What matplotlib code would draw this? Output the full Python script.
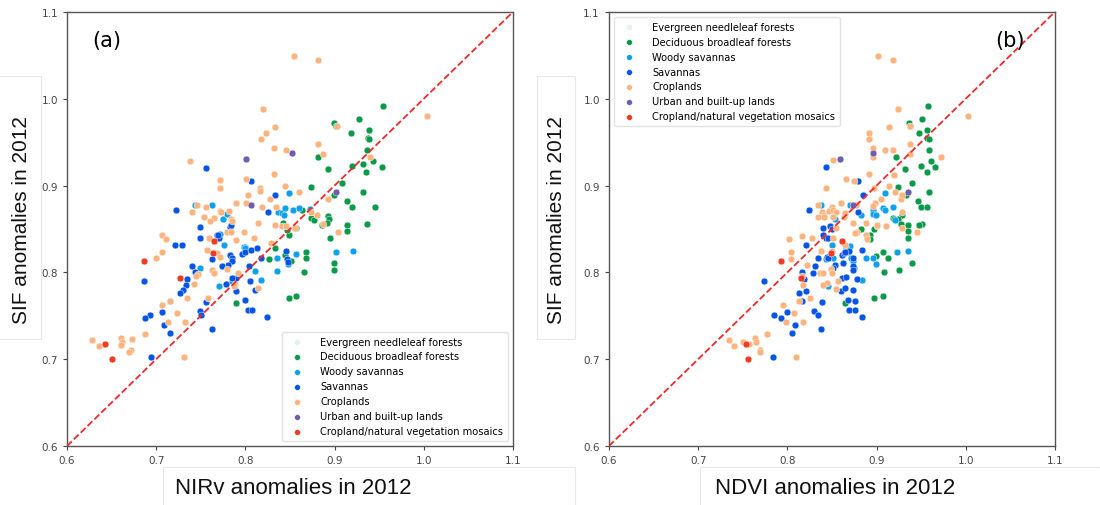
import matplotlib
matplotlib.use("Agg")
import matplotlib.pyplot as plt
from matplotlib.patches import Rectangle

# ── categories / colours ─────────────────────────────────
CLASSES = [
    "Evergreen needleleaf forests",
    "Deciduous broadleaf forests",
    "Woody savannas",
    "Savannas",
    "Croplands",
    "Urban and built-up lands",
    "Cropland/natural vegetation mosaics",
]
COLORS = ["#dff3f7", "#089a48", "#0ea0e8", "#0454e6", "#fcb47e", "#6e5cae", "#f03a22"]

# ── panel (a): NIRv vs SIF ───────────────────────────────
enf_x_a, enf_y_a = [], []

dbf_x_a = [.954, .927, .899, .901, .918, .938, .937, .938, .936, .881, .893, .920, .932,
           .943, .953, .935, .908, .874, .932, .899, .914, .920, .945, .874, .877, .893,
           .894, .892, .886, .914, .914, .936, .895, .842, .857, .849, .833, .826, .844,
           .851, .868, .868, .866, .899, .899, .790, .849, .857, .863, .847]
dbf_y_a = [.992, .977, .972, .969, .961, .964, .955, .954, .941, .933, .919, .923, .925,
           .928, .921, .915, .903, .898, .893, .889, .882, .875, .875, .863, .860, .865,
           .861, .857, .855, .855, .848, .856, .840, .857, .851, .843, .828, .815, .820,
           .813, .823, .817, .800, .811, .803, .765, .770, .773, .872, .849]

wsav_x_a = [.763, .743, .775, .779, .772, .776, .800, .798, .837, .841, .844, .853, .860,
            .872, .849, .843, .770, .785, .818, .835, .811, .835, .857, .848, .901, .921,
            .749, .716, .800]
wsav_y_a = [.878, .877, .862, .867, .844, .832, .829, .829, .870, .868, .874, .872, .874,
            .873, .891, .866, .784, .790, .791, .801, .802, .816, .821, .810, .824, .825,
            .805, .767, .828]

sav_x_a = [.756, .806, .833, .722, .749, .749, .768, .770, .783, .784, .825, .721, .729,
           .763, .783, .785, .785, .796, .800, .806, .813, .817, .804, .781, .774, .740,
           .743, .790, .785, .735, .733, .730, .727, .686, .756, .749, .750, .707, .693,
           .687, .709, .716, .763, .800, .803, .807, .824, .694, .778, .790, .805, .811,
           .845, .847, .848, .769]
sav_y_a = [.920, .905, .889, .872, .852, .840, .843, .839, .852, .855, .869, .831, .832,
           .815, .820, .816, .813, .821, .824, .826, .828, .816, .807, .809, .807, .807,
           .800, .794, .794, .792, .785, .780, .776, .790, .766, .755, .751, .754, .751,
           .747, .739, .730, .735, .768, .757, .757, .748, .702, .787, .779, .790, .780,
           .825, .815, .812, .843]

crop_x_a = [.854, .881, .820, 1.003, .903, .833, .823, .817, .738, .832, .846, .881, .887,
            .940, .772, .771, .801, .832, .816, .816, .803, .844, .860, .828, .801, .790,
            .746, .756, .740, .771, .773, .782, .754, .765, .760, .784, .785, .814, .819,
            .834, .833, .841, .854, .893, .880, .887, .707, .711, .707, .700, .759, .779,
            .784, .798, .810, .790, .757, .768, .772, .829, .856, .904, .763, .765, .779,
            .792, .747, .745, .742, .735, .716, .707, .723, .758, .788, .787, .814, .713,
            .732, .687, .628, .636, .660, .662, .660, .673, .672, .670, .731, .873, .846]
crop_y_a = [1.049, 1.044, .988, .980, .968, .967, .961, .954, .928, .943, .941, .948, .936,
            .933, .906, .897, .908, .913, .897, .894, .889, .900, .893, .885, .880, .880,
            .877, .875, .869, .871, .870, .871, .864, .863, .859, .862, .859, .857, .875,
            .875, .854, .853, .851, .884, .866, .856, .843, .838, .824, .816, .840, .846,
            .846, .847, .839, .837, .826, .822, .818, .834, .851, .846, .803, .799, .804,
            .799, .798, .796, .786, .770, .767, .762, .753, .771, .787, .784, .782, .743,
            .743, .729, .722, .715, .724, .720, .716, .723, .711, .708, .702, .870, .853]

urb_x_a = [.801, .852, .806, .901]
urb_y_a = [.931, .938, .877, .892]

mos_x_a = [.686, .765, .764, .727, .643, .651]
mos_y_a = [.813, .836, .822, .793, .717, .700]

# ── panel (b): NDVI vs SIF ───────────────────────────────
enf_x_b, enf_y_b = [], []

dbf_x_b = [.958, .951, .936, .937, .948, .957, .957, .959, .959, .922, .932, .950, .961,
           .966, .957, .940, .924, .959, .933, .946, .950, .956, .918, .924, .929, .924,
           .927, .935, .935, .951, .948, .935, .883, .897, .893, .893, .899, .907, .913,
           .908, .925, .940, .897, .907, .865, .920]
dbf_y_b = [.992, .977, .972, .969, .961, .964, .955, .954, .941, .933, .919, .923, .928,
           .921, .915, .903, .898, .893, .889, .882, .875, .875, .863, .860, .866, .861,
           .856, .855, .848, .856, .855, .840, .850, .850, .843, .838, .819, .823, .817,
           .800, .803, .811, .770, .773, .765, .862]

wsav_x_b = [.838, .870, .853, .850, .870, .868, .896, .907, .909, .918, .909, .896, .899,
            .921, .845, .871, .875, .884, .896, .888, .899, .923, .935, .866, .851, .846,
            .843, .883, .873]
wsav_y_b = [.878, .878, .862, .832, .830, .824, .872, .874, .872, .875, .891, .867, .866,
            .860, .784, .817, .805, .791, .816, .816, .810, .824, .825, .828, .816, .817,
            .815, .866, .813]

sav_x_b = [.843, .879, .885, .824, .840, .840, .848, .850, .843, .845, .879, .821, .834,
           .844, .846, .861, .864, .866, .869, .874, .884, .874, .873, .853, .831, .816,
           .829, .861, .866, .819, .821, .813, .816, .774, .839, .830, .834, .800, .785,
           .793, .808, .805, .838, .868, .869, .876, .884, .784, .860, .865, .878, .873,
           .876, .865, .851, .862]
sav_y_b = [.921, .905, .889, .872, .851, .843, .853, .850, .839, .839, .869, .832, .816,
           .818, .816, .820, .822, .824, .825, .816, .826, .807, .803, .808, .807, .800,
           .799, .793, .795, .792, .779, .776, .767, .790, .766, .755, .751, .754, .751,
           .747, .739, .730, .735, .768, .757, .757, .748, .702, .779, .782, .792, .780,
           .767, .823, .805, .811]

crop_x_b = [.902, .918, .924, 1.003, .937, .914, .892, .892, .896, .909, .918, .938, .938,
            .972, .851, .892, .843, .866, .875, .897, .914, .921, .905, .898, .927, .929,
            .834, .850, .860, .874, .839, .841, .847, .851, .854, .841, .834, .863, .873,
            .888, .900, .911, .928, .928, .945, .878, .876, .888, .889, .854, .802, .804,
            .816, .804, .838, .851, .850, .822, .837, .840, .849, .850, .816, .817, .825,
            .813, .795, .807, .798, .817, .777, .734, .740, .764, .765, .769, .769, .750,
            .757, .810, .828, .854, .844, .877, .865, .865, .851, .857, .840, .896, .901,
            .919, .896]
crop_y_b = [1.049, 1.044, .988, .980, .968, .967, .961, .954, .943, .941, .941, .948, .936,
            .933, .929, .913, .897, .908, .905, .897, .900, .893, .885, .880, .884, .889,
            .877, .875, .880, .878, .870, .866, .871, .872, .870, .864, .864, .864, .857,
            .857, .853, .853, .851, .870, .846, .846, .845, .843, .838, .851, .838, .824,
            .842, .815, .825, .839, .825, .808, .799, .799, .804, .799, .796, .785, .770,
            .767, .762, .753, .743, .743, .729, .722, .715, .724, .720, .711, .708, .720,
            .717, .702, .839, .781, .788, .878, .832, .868, .864, .790, .785, .876, .855,
            .912, .933]

urb_x_b = [.859, .896, .873, .935]
urb_y_b = [.931, .938, .878, .892]

mos_x_b = [.793, .861, .849, .815, .754, .756]
mos_y_b = [.813, .836, .822, .793, .717, .700]

PANEL_A = [(enf_x_a, enf_y_a), (dbf_x_a, dbf_y_a), (wsav_x_a, wsav_y_a), (sav_x_a, sav_y_a),
           (crop_x_a, crop_y_a), (urb_x_a, urb_y_a), (mos_x_a, mos_y_a)]
PANEL_B = [(enf_x_b, enf_y_b), (dbf_x_b, dbf_y_b), (wsav_x_b, wsav_y_b), (sav_x_b, sav_y_b),
           (crop_x_b, crop_y_b), (urb_x_b, urb_y_b), (mos_x_b, mos_y_b)]

TICKS = [0.6, 0.7, 0.8, 0.9, 1.0, 1.1]
LIMS = (0.6, 1.1)


def draw_panel(ax, series, tag, tag_x, legend_loc):
    for (xs, ys), name, col in zip(series, CLASSES, COLORS):
        ax.scatter(xs, ys, s=24, color=col, edgecolors="white", linewidths=0.3,
                   label=name, zorder=2)
    ax.plot(LIMS, LIMS, color="#f0282a", linestyle="--", linewidth=1.3, zorder=3)
    ax.set_xlim(*LIMS)
    ax.set_ylim(*LIMS)
    ax.set_xticks(TICKS)
    ax.set_yticks(TICKS)
    ax.tick_params(labelsize=7.5, colors="#444444", length=3, width=0.8)
    for sp in ax.spines.values():
        sp.set_color("#555555")
        sp.set_linewidth(1.0)
    ax.text(tag_x, 0.935, tag, transform=ax.transAxes, fontsize=15,
            ha="center", va="center", color="black")
    leg = ax.legend(loc=legend_loc, fontsize=7.1, frameon=True, handletextpad=1.4,
                    borderpad=0.5, labelspacing=0.5, markerscale=0.85)
    leg.get_frame().set_edgecolor("#dddddd")


fig = plt.figure(figsize=(11, 5.06), dpi=100)
ax_a = fig.add_axes([0.0609, 0.1166, 0.4055, 0.858])
ax_b = fig.add_axes([0.5536, 0.1166, 0.4055, 0.858])

draw_panel(ax_a, PANEL_A, "(a)", 0.09, "lower right")
draw_panel(ax_b, PANEL_B, "(b)", 0.90, "upper left")

# pasted label boxes (faint frames as in the original figure)
W, H = 1100, 506
for x0, y0, x1, y1 in [(-2, 77, 41, 340), (537, 77, 575, 340),
                       (163, 468, 575, 510), (700, 468, 1100, 510)]:
    fig.patches.append(Rectangle((x0 / W, 1 - y1 / H), (x1 - x0) / W, (y1 - y0) / H,
                                 transform=fig.transFigure, fill=False,
                                 edgecolor="#e8e8e8", linewidth=0.8))

lab = dict(family="Liberation Sans", color="#111111")
fig.text(22 / W, 1 - 220 / H, "SIF anomalies in 2012", rotation=90, fontsize=15,
         ha="center", va="center", **lab)
fig.text(557 / W, 1 - 220 / H, "SIF anomalies in 2012", rotation=90, fontsize=15,
         ha="center", va="center", **lab)
fig.text(293 / W, 1 - 489 / H, "NIRv anomalies in 2012", fontsize=16,
         ha="center", va="center", **lab)
fig.text(835 / W, 1 - 489 / H, "NDVI anomalies in 2012", fontsize=16,
         ha="center", va="center", **lab)

fig.savefig("out.png", dpi=100)
